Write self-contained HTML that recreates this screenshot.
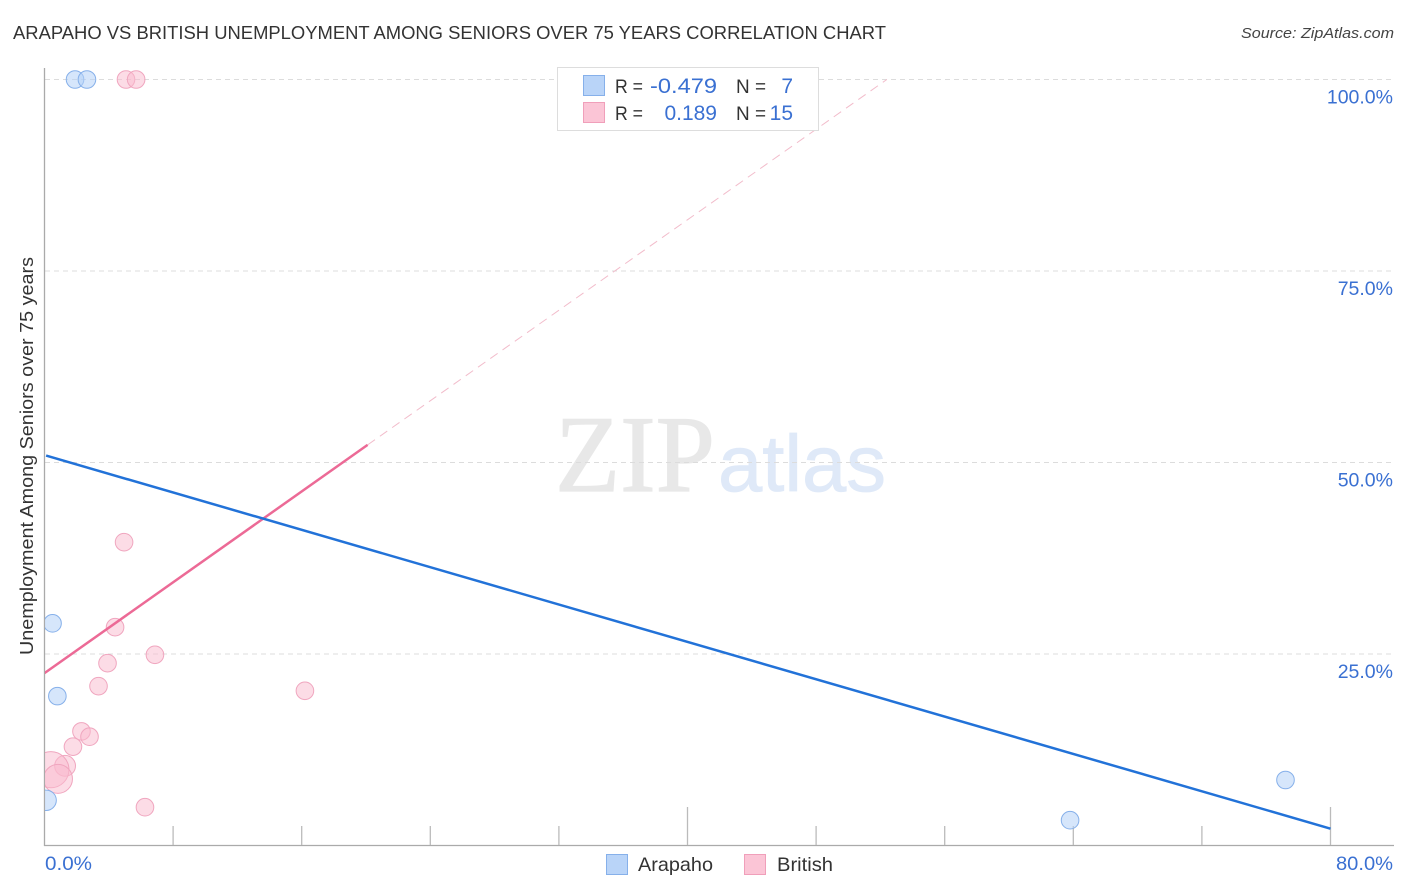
<!DOCTYPE html>
<html lang="en">
<head>
<meta charset="utf-8">
<title>Arapaho vs British Unemployment Correlation Chart</title>
<style>
html,body{margin:0;padding:0;background:#fff;width:1406px;height:892px;overflow:hidden}
svg{display:block;font-family:"Liberation Sans",sans-serif}
</style>
</head>
<body>
<svg id="chart" xmlns="http://www.w3.org/2000/svg" width="1406" height="892" viewBox="0 0 1406 892">
  <defs><clipPath id="plot-clip"><rect x="45" y="60" width="1349" height="785"/></clipPath></defs>
  <text x="13" y="39" font-size="18.5" fill="#333" textLength="873" lengthAdjust="spacingAndGlyphs">ARAPAHO VS BRITISH UNEMPLOYMENT AMONG SENIORS OVER 75 YEARS CORRELATION CHART</text>
  <text x="1394" y="38" font-size="15" font-style="italic" fill="#444" text-anchor="end" textLength="153" lengthAdjust="spacingAndGlyphs">Source: ZipAtlas.com</text>
  <g>
    <text x="555" y="491" font-family="'Liberation Serif',serif" font-size="109" fill="#e8e8e8" stroke="#e8e8e8" stroke-width="1.2" textLength="160" lengthAdjust="spacingAndGlyphs">ZIP</text>
    <text x="718" y="491" font-size="80" fill="#dfe9f8" stroke="#dfe9f8" stroke-width="0.8" textLength="168" lengthAdjust="spacingAndGlyphs">atlas</text>
  </g>
  <g id="grid"></g>
  <g id="axes"></g>
  <g id="series" clip-path="url(#plot-clip)"></g>
  <text transform="translate(33,456) rotate(-90)" font-size="18" fill="#333" text-anchor="middle" textLength="398" lengthAdjust="spacingAndGlyphs">Unemployment Among Seniors over 75 years</text>
  <g>
    <rect x="557.5" y="67.5" width="261" height="63" fill="#fff" stroke="#ddd" stroke-width="1"/>
    <rect x="583.5" y="75.5" width="21" height="20" fill="#b9d4f8" stroke="#86b0ea"/>
    <rect x="583.5" y="102.5" width="21" height="20" fill="#fbc5d6" stroke="#f09fba"/>
    <g font-size="19.5" fill="#333">
      <text x="615" y="93" textLength="28" lengthAdjust="spacingAndGlyphs">R =</text>
      <text x="736" y="93" textLength="30" lengthAdjust="spacingAndGlyphs">N =</text>
      <text x="615" y="120" textLength="28" lengthAdjust="spacingAndGlyphs">R =</text>
      <text x="736" y="120" textLength="30" lengthAdjust="spacingAndGlyphs">N =</text>
    </g>
    <g font-size="21" fill="#3a70d2">
      <text x="650" y="93" textLength="67" lengthAdjust="spacingAndGlyphs">-0.479</text>
      <text x="793" y="93" text-anchor="end">7</text>
      <text x="717" y="120" text-anchor="end">0.189</text>
      <text x="793" y="120" text-anchor="end">15</text>
    </g>
  </g>
  <g>
    <rect x="606.5" y="854.5" width="21" height="20" fill="#b9d4f8" stroke="#86b0ea"/>
    <text x="638" y="871" font-size="19.5" fill="#333" textLength="75" lengthAdjust="spacingAndGlyphs">Arapaho</text>
    <rect x="744.5" y="854.5" width="21" height="20" fill="#fbc5d6" stroke="#f09fba"/>
    <text x="777" y="871" font-size="19.5" fill="#333" textLength="56" lengthAdjust="spacingAndGlyphs">British</text>
  </g>
</svg>
<script>
const yTickValues = [25, 50, 75, 100];
const yTickLabels = ['25.0%', '50.0%', '75.0%', '100.0%'];
const xTickValues = [8, 16, 24, 32, 40, 48, 56, 64, 72, 80];
const xMajorTicks = [40, 80];
const xEndValues = [0, 80];
const xEndLabels = ['0.0%', '80.0%'];

const arapahoX = [1.9, 2.64, 0.5, 0.8, 0.1, 63.8, 77.2];
const arapahoY = [100, 100, 29.0, 19.5, 5.9, 3.3, 8.55];
const arapahoWeight = [1, 1, 1, 1, 1.35, 1, 1];

const britishX = [5.07, 5.7, 4.95, 4.39, 6.87, 3.92, 3.36, 16.2, 2.3, 2.8, 1.77, 1.28, 0.4, 0.84, 6.25];
const britishY = [100, 100, 39.6, 28.5, 24.9, 23.8, 20.8, 20.2, 14.9, 14.2, 12.9, 10.4, 9.9, 8.7, 5.0];
const britishWeight = [1, 1, 1, 1, 1, 1, 1, 1, 1, 1, 1, 1.4, 4.2, 2.7, 1];

const arapahoTrendX = [0.1, 80];
const arapahoTrendY = [50.9, 2.2];
const britishTrendX = [0, 20.1];
const britishTrendY = [22.5, 52.3];
const britishProjectionX = [20.1, 52.4];
const britishProjectionY = [52.3, 100];

const NS = 'http://www.w3.org/2000/svg';
const sx = v => 44.5 + v * 16.075;
const sy = v => 845.5 - v * 7.66;
const rad = w => 8.8 * Math.sqrt(w);

function mk(tag, parent, attrs) {
  const el = document.createElementNS(NS, tag);
  for (const k in attrs) el.setAttribute(k, attrs[k]);
  parent.appendChild(el);
  return el;
}

const grid = document.getElementById('grid');
const axes = document.getElementById('axes');
const series = document.getElementById('series');

yTickValues.forEach((v, i) => {
  const line = mk('line', grid, {x1: 45, x2: 1394, y1: sy(v), y2: sy(v), stroke: '#dcdcdc', 'stroke-width': 1, 'stroke-dasharray': '5 4'});
  
  
  const t = mk('text', axes, {x: 1393, y: sy(v) + 24, 'font-size': 19.5, fill: '#3a70d2', 'text-anchor': 'end'});
  t.textContent = yTickLabels[i];
  
  
});

const yAxis = mk('line', axes, {x1: 44.5, x2: 44.5, y1: 68, y2: 846, stroke: '#aaa', 'stroke-width': 1.3});


const xAxis = mk('line', axes, {x1: 44, x2: 1394, y1: 845.5, y2: 845.5, stroke: '#aaa', 'stroke-width': 1.3});



xTickValues.forEach(v => {
  const top = xMajorTicks.includes(v) ? 807 : 826;
  const tick = mk('line', axes, {x1: sx(v), x2: sx(v), y1: top, y2: 845, stroke: '#bbb', 'stroke-width': 1.3});
  
  
});

xEndValues.forEach((v, i) => {
  const t = mk('text', axes, {x: i === 0 ? 45 : 1336, y: 870, 'font-size': 19.5, fill: '#3a70d2', textLength: i === 0 ? 47 : 57, lengthAdjust: 'spacingAndGlyphs'});
  t.textContent = xEndLabels[i];
  
  
});

britishX.forEach((v, i) => {
  const c = mk('circle', series, {cx: sx(v), cy: sy(britishY[i]), r: rad(britishWeight[i]), fill: '#f9b9cd', 'fill-opacity': 0.5, stroke: '#f0a6bf', 'stroke-width': 1});
  
  
});
arapahoX.forEach((v, i) => {
  const c = mk('circle', series, {cx: sx(v), cy: sy(arapahoY[i]), r: rad(arapahoWeight[i]), fill: '#b5d1f7', 'fill-opacity': 0.55, stroke: '#86b0ea', 'stroke-width': 1});
  
  
});

const projection = mk('line', series, {x1: sx(britishProjectionX[0]), y1: sy(britishProjectionY[0]), x2: sx(britishProjectionX[1]), y2: sy(britishProjectionY[1]), stroke: '#f2bccb', 'stroke-width': 1, 'stroke-dasharray': '9 6'});


const pinkTrend = mk('line', series, {x1: sx(britishTrendX[0]), y1: sy(britishTrendY[0]), x2: sx(britishTrendX[1]), y2: sy(britishTrendY[1]), stroke: '#ec6a96', 'stroke-width': 2.5});


const blueTrend = mk('line', series, {x1: sx(arapahoTrendX[0]), y1: sy(arapahoTrendY[0]), x2: sx(arapahoTrendX[1]), y2: sy(arapahoTrendY[1]), stroke: '#2272d8', 'stroke-width': 2.5});


</script>
</body>
</html>
